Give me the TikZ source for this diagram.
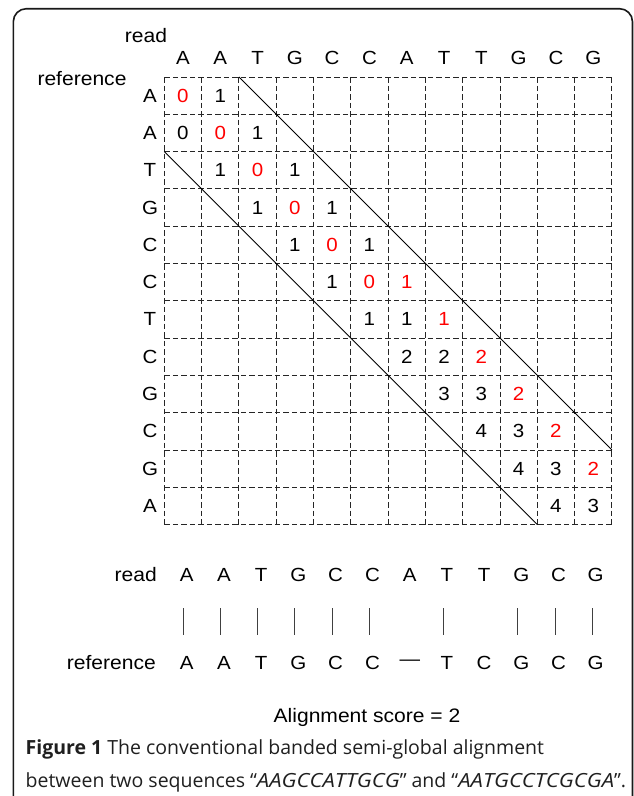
\documentclass[tikz,border=0pt]{standalone}
\usepackage{fontspec}
\setmainfont{Liberation Sans}[FakeStretch=1.08]
\newfontfamily\capfont{Open Sans}[ItalicFeatures={FakeStretch=1.13}]
\begin{document}
\begin{tikzpicture}[x=1pt,y=-1pt,
  lbl/.style={inner sep=0pt, font=\fontsize{19}{22}\selectfont},
  word/.style={inner sep=0pt, font=\fontsize{19.5}{23}\selectfont},
  val/.style={lbl},
  best/.style={lbl, text=red},
  gridline/.style={draw=black!85, line width=0.9pt, dash pattern=on 5.5pt off 3pt},
  band/.style={draw=black, line width=0.9pt},
  bar/.style={draw=black!75, line width=1pt},
  frame/.style={draw=black!90, line width=1.6pt, rounded corners=13pt},
  caption/.style={inner sep=0pt, anchor=base west, text=black!88, font=\capfont\fontsize{19.5}{23}\selectfont}]
\useasboundingbox (0,0) rectangle (634,796);
% outer rounded frame, open at the bottom
\begin{scope}
  \clip (0,0) rectangle (634,796);
  \draw[frame] (13.3,8.7) rectangle (632.5,840);
\end{scope}
% grid geometry
\def\gx{164.3}
\def\gy{77}
\def\cs{37.3}
% grid corner coordinates
\foreach \i in {0,...,12}{
  \coordinate (gt\i) at (\gx+\i*\cs,\gy);
  \coordinate (gb\i) at (\gx+\i*\cs,\gy+12*\cs);
  \coordinate (gl\i) at (\gx,\gy+\i*\cs);
  \coordinate (gr\i) at (\gx+12*\cs,\gy+\i*\cs);
}
\foreach \i in {0,...,12}{
  \draw[gridline] (gt\i) -- (gb\i);
  \draw[gridline] (gl\i) -- (gr\i);
}
% band limits
\coordinate (bandUa) at (\gx+2*\cs,\gy);
\coordinate (bandUb) at (\gx+12*\cs,\gy+10*\cs);
\coordinate (bandLa) at (\gx,\gy+2*\cs);
\coordinate (bandLb) at (\gx+10*\cs,\gy+12*\cs);
\draw[band] (bandUa) -- (bandUb);
\draw[band] (bandLa) -- (bandLb);
% axis labels
\node[word] (readlbl) at (146,36) {read};
\node[word] (reflbl) at (82,79) {reference};
\foreach \L [count=\i from 0] in {A,A,T,G,C,C,A,T,T,G,C,G}
  \node[lbl] (col\i) at (\gx+\i*\cs+\cs/2,58) {\L};
\foreach \L [count=\i from 0] in {A,A,T,G,C,C,T,C,G,C,G,A}
  \node[lbl] (row\i) at (150,\gy+\i*\cs+\cs/2) {\L};
% cell scores
\foreach \r/\c/\v/\s in {
  0/0/0/best, 0/1/1/val,
  1/0/0/val, 1/1/0/best, 1/2/1/val,
  2/1/1/val, 2/2/0/best, 2/3/1/val,
  3/2/1/val, 3/3/0/best, 3/4/1/val,
  4/3/1/val, 4/4/0/best, 4/5/1/val,
  5/4/1/val, 5/5/0/best, 5/6/1/best,
  6/5/1/val, 6/6/1/val, 6/7/1/best,
  7/6/2/val, 7/7/2/val, 7/8/2/best,
  8/7/3/val, 8/8/3/val, 8/9/2/best,
  9/8/4/val, 9/9/3/val, 9/10/2/best,
  10/9/4/val, 10/10/3/val, 10/11/2/best,
  11/10/4/val, 11/11/3/val}
  \node[\s] (cell\r-\c) at (\gx+\c*\cs+\cs/2,\gy+\r*\cs+\cs/2) {\v};
% resulting alignment
\def\ax{186.7}
\def\as{37.18}
\node[word, anchor=east] (readrow) at (157,575) {read};
\node[word, anchor=east] (refrow) at (156,663) {reference};
\foreach \L [count=\i from 0] in {A,A,T,G,C,C,A,T,T,G,C,G}
  \node[lbl] (ra\i) at (\ax+\i*\as,575) {\L};
\foreach \L [count=\i from 0] in {A,A,T,G,C,C,—,T,C,G,C,G}
  \node[lbl] (fa\i) at (\ax+\i*\as,663) {\L};
\foreach \i in {0,1,2,3,4,5,7,9,10,11}{
  \coordinate (mt\i) at (\ax-3.4+\i*\as,608);
  \coordinate (mb\i) at (\ax-3.4+\i*\as,635);
  \draw[bar] (mt\i) -- (mb\i);
}
\node[word] (score) at (367,717) {Alignment score = 2};
% caption
\node[caption] (cap1) at (25.5,754) {\textbf{Figure 1} The conventional banded semi-global alignment};
\node[caption] (cap2) at (25.5,787) {between two sequences “\textit{AAGCCATTGCG}” and “\textit{AATGCCTCGCGA}”.};
\end{tikzpicture}
\end{document}
